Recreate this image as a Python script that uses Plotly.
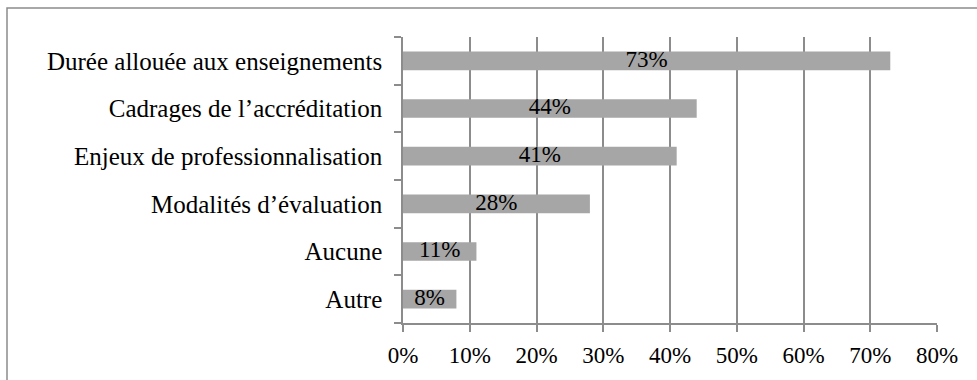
import plotly.graph_objects as go

# Survey answers, listed from top to bottom
categories = [
    "Durée allouée aux enseignements",
    "Cadrages de l\u2019accréditation",
    "Enjeux de professionnalisation",
    "Modalités d\u2019évaluation",
    "Aucune",
    "Autre",
]
values = [73, 44, 41, 28, 11, 8]
x_ticks = [0, 10, 20, 30, 40, 50, 60, 70, 80]
x_tick_labels = [f"{t}%" for t in x_ticks]

FONT = "Liberation Serif"
GRID = "#8c8c8c"

fig = go.Figure()

fig.add_trace(go.Bar(
    x=values,
    y=categories,
    orientation="h",
    marker=dict(color="#a6a6a6", line=dict(width=0)),
    width=0.39,
    hoverinfo="skip",
))

# Percent labels centred on each bar
fig.add_trace(go.Scatter(
    x=[v / 2 for v in values],
    y=categories,
    mode="text",
    text=[f"{v}%" for v in values],
    textposition="middle center",
    textfont=dict(family=FONT, size=23, color="black"),
    hoverinfo="skip",
))

W, H = 977, 380
L, R, T, B = 403, 40, 37, 57
pw, ph = W - L - R, H - T - B

fig.update_layout(
    width=W,
    height=H,
    margin=dict(l=L, r=R, t=T, b=B),
    paper_bgcolor="white",
    plot_bgcolor="white",
    showlegend=False,
    font=dict(family=FONT, size=23, color="black"),
    xaxis=dict(
        range=[0, 80],
        tickvals=x_ticks,
        ticktext=x_tick_labels,
        tickfont=dict(size=23),
        showgrid=True,
        gridcolor=GRID,
        gridwidth=1.5,
        zeroline=False,
        showline=True,
        linecolor=GRID,
        linewidth=1.5,
        ticks="outside",
        ticklen=7,
        tickcolor=GRID,
        tickwidth=1.5,
        ticklabelstandoff=4,
    ),
    yaxis=dict(
        categoryorder="array",
        categoryarray=categories[::-1],
        tickfont=dict(size=25),
        tickson="boundaries",
        showgrid=False,
        zeroline=False,
        showline=True,
        linecolor=GRID,
        linewidth=1.5,
        ticks="outside",
        ticklen=7,
        tickcolor=GRID,
        tickwidth=1.5,
        ticklabelstandoff=14,
    ),
    shapes=[dict(
        type="rect",
        xref="paper",
        yref="paper",
        x0=(7 - L) / pw,
        x1=2,
        y0=-1,
        y1=1 + (T - 8) / ph,
        line=dict(color=GRID, width=1.5),
        fillcolor="rgba(0,0,0,0)",
        layer="below",
    )],
)

fig.write_html("out.html")
